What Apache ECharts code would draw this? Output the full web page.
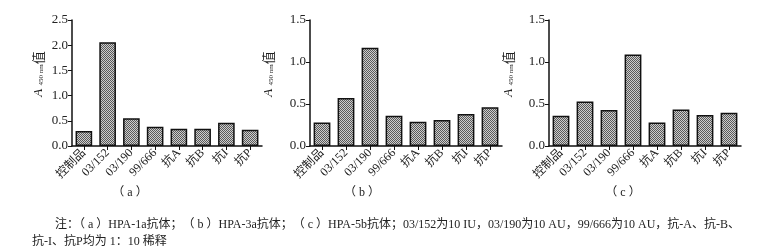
<!DOCTYPE html>
<html><head><meta charset="utf-8">
<script src="https://cdn.jsdelivr.net/npm/echarts@6/dist/echarts.min.js"></script>
<style>html,body{margin:0;padding:0;background:#fff}#c{width:765px;height:252px}</style>
</head><body><div id="c"></div>
<script>
const categories = ['控制品','03/152','03/190','99/666','抗A','抗B','抗I','抗P'];
const valuesA = [0.30, 2.06, 0.55, 0.38, 0.34, 0.34, 0.46, 0.32];
const valuesB = [0.28, 0.57, 1.17, 0.36, 0.29, 0.31, 0.38, 0.46];
const valuesC = [0.36, 0.53, 0.43, 1.09, 0.28, 0.435, 0.37, 0.395];
const yMaxes = [2.5, 1.5, 1.5];
const captions = ['（ a ）','（ b ）','（ c ）'];
const noteLine1 = '注：（ a ）HPA-1a抗体；（ b ）HPA-3a抗体；（ c ）HPA-5b抗体；03/152为10 IU，03/190为10 AU，99/666为10 AU，抗-A、抗-B、';
const noteLine2 = '抗-I、抗P均为 1：10 稀释';

const FONT = '"Liberation Serif","Noto Sans CJK SC",serif';
// dotted pattern
const pc = document.createElement('canvas'); pc.width = 4; pc.height = 4;
const pctx = pc.getContext('2d');
pctx.fillStyle = '#cdcdcd'; pctx.fillRect(0,0,4,4);
pctx.fillStyle = '#5a5a5a';
[[0,0],[2,0],[1,1],[3,1],[0,2],[2,2],[1,3],[3,3]].forEach(([x,y])=>pctx.fillRect(x,y,1,1));
const pattern = { image: pc, repeat: 'repeat' };

const grids = [
  {left:72, right:503, top:20, bottom:106},
  {left:310, right:263, top:20, bottom:106},
  {left:549, right:24, top:20, bottom:106}
];
const nameGaps = [27, 35, 34];
const data = [valuesA, valuesB, valuesC];

const xAxis = [], yAxis = [], series = [];
for (let i=0;i<3;i++){
  xAxis.push({type:'category', gridIndex:i, data:categories,
    axisLine:{lineStyle:{color:'#111', width:1.5}},
    axisTick:{show:true, alignWithLabel:true, length:4, lineStyle:{color:'#111'}},
    axisLabel:{rotate:45, interval:0, margin:5, color:'#222', fontFamily:FONT, fontSize:12}
  });
  yAxis.push({type:'value', gridIndex:i, min:0, max:yMaxes[i], interval:0.5,
    axisLine:{show:true, lineStyle:{color:'#111', width:1.5}},
    axisTick:{show:true, length:4, lineStyle:{color:'#111'}},
    splitLine:{show:false},
    axisLabel:{color:'#222', fontFamily:FONT, fontSize:13, margin:4, formatter:v=>v.toFixed(1)},
    name:'{a|A} {s|450 nm}{z|值}', nameLocation:'middle', nameGap:nameGaps[i], nameRotate:90,
    nameTextStyle:{padding:[0,0,0,18], rich:{
      a:{fontFamily:FONT, fontStyle:'italic', fontSize:13, color:'#222'},
      s:{fontFamily:FONT, fontSize:7, color:'#222', verticalAlign:'bottom', padding:[5,0,0,0]},
      z:{fontFamily:'"Noto Sans CJK SC",serif', fontSize:13, color:'#222'}
    }}
  });
  series.push({type:'bar', xAxisIndex:i, yAxisIndex:i, data:data[i], barWidth:'70%',
    itemStyle:{color:pattern, borderColor:'#111', borderWidth:1.5}, silent:true});
}

const capX = [130, 362, 623];
const graphic = captions.map((t,i)=>({type:'text', x:capX[i], y:193,
  style:{text:t, fontSize:12, fontFamily:FONT, fill:'#222', align:'center', verticalAlign:'middle'}}));
graphic.push({type:'text', x:55, y:225, style:{text:noteLine1, fontSize:12, fontFamily:FONT, fill:'#222', verticalAlign:'middle'}});
graphic.push({type:'text', x:32, y:242, style:{text:noteLine2, fontSize:12, fontFamily:FONT, fill:'#222', verticalAlign:'middle'}});

const chart = echarts.init(document.getElementById('c'), null, {renderer:'canvas'});
chart.setOption({animation:false, grid:grids, xAxis, yAxis, series, graphic});
</script></body></html>
